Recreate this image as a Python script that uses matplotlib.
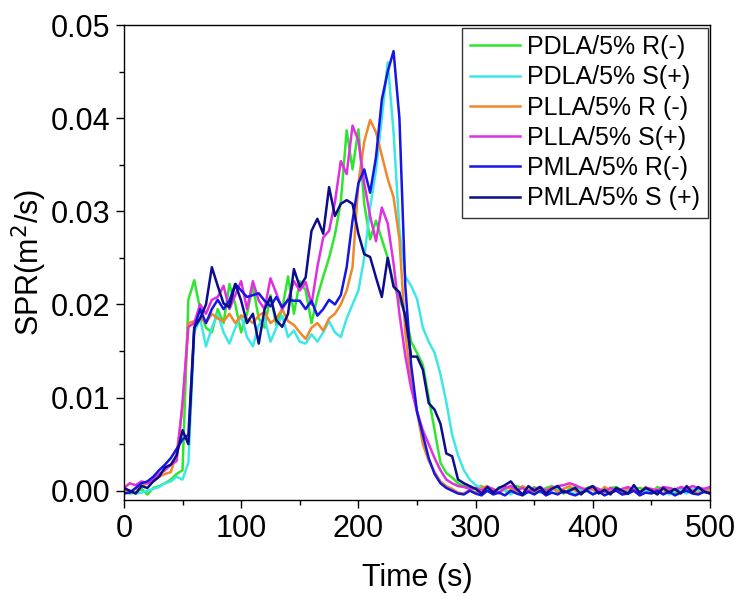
import matplotlib
matplotlib.use("Agg")
import matplotlib.pyplot as plt
from matplotlib.ticker import MultipleLocator, FormatStrFormatter
import numpy as np

plt.rcParams['font.family'] = ['Liberation Sans', 'DejaVu Sans']

# time axis (s), sampled every 5 s
time_s = list(range(0, 505, 5))

# SPR values in units of 1e-3 m^2/s
pdla_r = [0, -0.3, -0.2, 0.2, -0.4, 0.3, 0.5, 0.8, 1.2, 1.8,
          2.2, 20.5, 22.6, 19.5, 17.5, 17.0, 19.5, 18.0, 22.2, 20.0,
          17.0, 19.0, 22.0, 18.5, 17.5, 21.0, 17.8, 19.5, 23.0, 19.0,
          22.5, 21.5, 18.0, 20.8, 23.0, 25.0, 27.5, 31.0, 38.7, 34.5,
          38.8, 30.8, 27.0, 29.0, 27.0, 25.0, 22.2, 20.5, 19.0, 16.0,
          14.8, 13.5, 10.0, 6.5, 3.0, 1.9, 1.4, 0.8, 0.5, 0.3,
          0.2, 0.5, 0.0, -0.3, 0.4, 0.1, -0.2, 0.5, 0.3, 0.0,
          0.4, -0.2, 0.3, 0.5, 0.1, -0.3, 0.2, 0.4, 0.0, 0.3,
          0.5, 0.1, -0.2, 0.3, 0.4, 0.0, -0.3, 0.2, 0.3, 0.1,
          -0.2, 0.4, 0.2, 0.0, -0.3, 0.2, 0.3, 0.0, 0.2, -0.1, 0.3]
pdla_s = [0, 0, -0.3, -0.2, 0, 0.2, 0.4, 0.8, 1.0, 1.5,
          1.2, 3.0, 17.0, 18.5, 15.5, 17.5, 19.0, 17.0, 15.8, 17.5,
          18.8, 16.5, 15.5, 17.8, 18.5, 16.0, 17.5, 18.8, 16.5, 17.2,
          16.0, 15.8, 16.8, 16.0, 17.0, 18.2, 17.0, 16.5, 18.5, 20.0,
          21.5, 25.0, 30.4, 34.4, 40.0, 46.0, 38.5, 28.0, 23.0, 22.0,
          20.6, 17.5, 16.0, 14.8, 12.5, 9.5, 6.0, 3.8, 2.2, 1.2,
          0.6, 0.3, 0.0, -0.3, 0.2, 0.0, -0.4, 0.1, 0.3, -0.2,
          0.0, 0.2, -0.3, 0.1, 0.3, -0.2, 0.0, -0.4, 0.2, 0.1,
          -0.3, 0.0, 0.2, -0.2, 0.1, -0.4, 0.0, 0.2, -0.3, 0.1,
          0.0, -0.2, 0.2, -0.4, 0.0, 0.1, -0.3, 0.2, 0.0, -0.2, 0.1]
plla_r = [0, -0.2, 0.2, 0.5, 0.8, 1.0, 1.5, 1.8, 2.0, 4.0,
          9.0, 18.0, 18.2, 18.5, 18.0, 19.0, 18.5, 18.2, 19.0, 18.0,
          18.8, 18.5, 18.0, 18.8, 19.2, 18.0, 18.5, 19.5, 18.2, 17.8,
          17.0, 16.3, 17.5, 18.0, 17.2, 18.5, 19.0, 20.0, 21.5, 24.0,
          33.0, 37.5, 39.8, 38.5, 36.0, 33.5, 31.5, 27.0, 17.0, 11.5,
          8.5, 5.0, 3.2, 2.0, 1.0, 0.5, 0.2, -0.2, -0.3, 0.1,
          -0.2, 0.3, 0.5, 0.0, -0.3, 0.4, 0.2, -0.2, 0.5, 0.1,
          -0.3, 0.3, 0.0, 0.4, -0.2, 0.2, 0.5, 0.0, -0.3, 0.3,
          0.1, -0.2, 0.4, 0.0, 0.2, -0.3, 0.3, 0.1, -0.2, 0.4,
          0.0, 0.2, -0.3, 0.3, 0.1, -0.2, 0.2, 0.0, -0.3, 0.2, 0.0]
plla_s = [0.3, 0.8, 0.6, 1.0, 0.8, 1.2, 1.8, 2.2, 2.8, 3.2,
          9.5, 17.6, 18.0, 20.0, 19.0, 20.5, 20.8, 22.0, 19.5, 21.0,
          22.5, 19.5, 22.5, 20.4, 19.5, 22.8, 21.2, 19.5, 20.5, 22.5,
          21.5, 22.4, 20.0, 24.0, 27.2, 27.9, 31.0, 35.4, 34.0, 39.2,
          37.6, 33.0, 29.5, 26.8, 30.4, 28.7, 24.4, 19.0, 14.5, 11.0,
          8.5, 6.5, 5.0, 3.5, 2.2, 1.2, 0.8, 0.5, 0.4, 0.2,
          0.3, 0.0, 0.4, 0.2, -0.2, 0.3, 0.5, 0.1, 0.3, -0.1,
          0.2, 0.4, 0.0, 0.3, 0.5, 0.6, 0.8, 0.6, 0.3, 0.1,
          0.4, 0.2, -0.1, 0.3, 0.0, 0.2, 0.4, 0.1, -0.2, 0.3,
          0.2, 0.0, 0.4, 0.3, 0.1, 0.4, 0.2, 0.5, 0.3, 0.2, 0.4]
pmla_r = [-0.3, -0.2, 0.3, 0.8, 1.0, 1.5, 2.2, 2.8, 3.5, 4.5,
          5.5, 6.0, 17.5, 19.5, 18.0, 19.5, 20.5, 19.5, 20.4, 22.2,
          21.5, 20.8, 21.0, 21.2, 20.4, 19.8, 20.8, 19.7, 20.5, 20.4,
          20.4, 19.5, 20.4, 18.8, 19.5, 20.5, 20.0, 21.0, 24.0, 29.0,
          33.0, 34.5, 32.0, 35.8, 42.0, 45.0, 47.2, 40.0, 22.0, 13.5,
          8.5, 6.0, 3.5, 1.8, 0.8, 0.3, 0.0, -0.3, -0.4, 0.0,
          -0.3, -0.5, 0.0, -0.4, -0.2, -0.5, 0.0, -0.3, -0.5, -0.1,
          -0.4, 0.0, -0.5, -0.2, -0.4, 0.0, -0.3, -0.5, -0.2, 0.0,
          -0.4, -0.1, -0.5, -0.2, 0.0, -0.4, -0.3, 0.0, -0.5, -0.2,
          -0.3, 0.0, -0.4, -0.1, -0.5, -0.2, 0.0, -0.3, -0.4, -0.1, -0.3]
pmla_s = [0.3, 0.0, -0.3, 0.5, 0.3, 1.0, 1.5, 2.5, 2.8, 3.8,
          6.5, 5.0, 17.5, 18.5, 20.0, 24.0, 22.0, 20.1, 19.7, 22.2,
          20.4, 18.0, 19.0, 15.8, 19.5, 20.8, 18.3, 17.6, 19.0, 23.8,
          21.9, 22.9, 27.9, 29.2, 27.6, 32.6, 29.5, 30.8, 31.2, 30.8,
          27.6, 25.4, 25.1, 22.9, 20.8, 25.0, 21.9, 21.3, 18.7, 14.4,
          14.4, 13.0, 9.4, 8.7, 7.2, 4.0, 3.7, 1.2, 0.8, 0.5,
          0.2, -0.3, 0.4, -0.2, 0.3, 0.6, 1.0, 0.2, -0.4, 0.5,
          0.0, 0.4, -0.3, 0.2, 0.5, -0.2, 0.0, 0.3, -0.4, 0.2,
          0.5, -0.3, 0.1, -0.4, 0.3, 0.0, -0.3, 0.6, -0.2, 0.3,
          0.0, -0.4, 0.3, -0.2, 0.2, -0.3, 0.5, -0.2, 0.4, -0.1, -0.3]

series_labels = ["PDLA/5% R(-)", "PDLA/5% S(+)", "PLLA/5% R (-)",
                 "PLLA/5% S(+)", "PMLA/5% R(-)", "PMLA/5% S (+)"]
series_values = [pdla_r, pdla_s, plla_r, plla_s, pmla_r, pmla_s]
series_colors = ["#2ee62e", "#3fe6e6", "#f0882a", "#e030e0", "#1515e6", "#0c0c8c"]
unit_scale = 1e-3

fig = plt.figure(figsize=(7.42, 5.96), dpi=100)
ax = fig.add_axes([0.167, 0.161, 0.790, 0.797])

t = np.array(time_s)
for vals, lab, col in zip(series_values, series_labels, series_colors):
    ax.plot(t, np.array(vals) * unit_scale, color=col, lw=1.8, label=lab)

ax.set_xlim(0, 500)
ax.set_ylim(-0.001, 0.05)
ax.xaxis.set_major_locator(MultipleLocator(100))
ax.xaxis.set_minor_locator(MultipleLocator(50))
ax.yaxis.set_major_locator(MultipleLocator(0.01))
ax.yaxis.set_minor_locator(MultipleLocator(0.005))
ax.yaxis.set_major_formatter(FormatStrFormatter('%.2f'))
ax.tick_params(which='major', direction='out', length=6, width=1, labelsize=22, pad=4)
ax.tick_params(which='minor', direction='out', length=3.5, width=1)
for s in ax.spines.values():
    s.set_linewidth(1)

ax.set_xlabel("Time (s)", fontsize=22, labelpad=14)
ax.set_ylabel("SPR(m$^2$/s)", fontsize=22, labelpad=1)

leg = ax.legend(loc='upper right', fontsize=18, frameon=True, fancybox=False,
                edgecolor='black', borderaxespad=0.1, handlelength=2.0,
                handletextpad=0.3, labelspacing=0.25, borderpad=0.3)
leg.get_frame().set_linewidth(1)

fig.savefig("out.png", dpi=100)
